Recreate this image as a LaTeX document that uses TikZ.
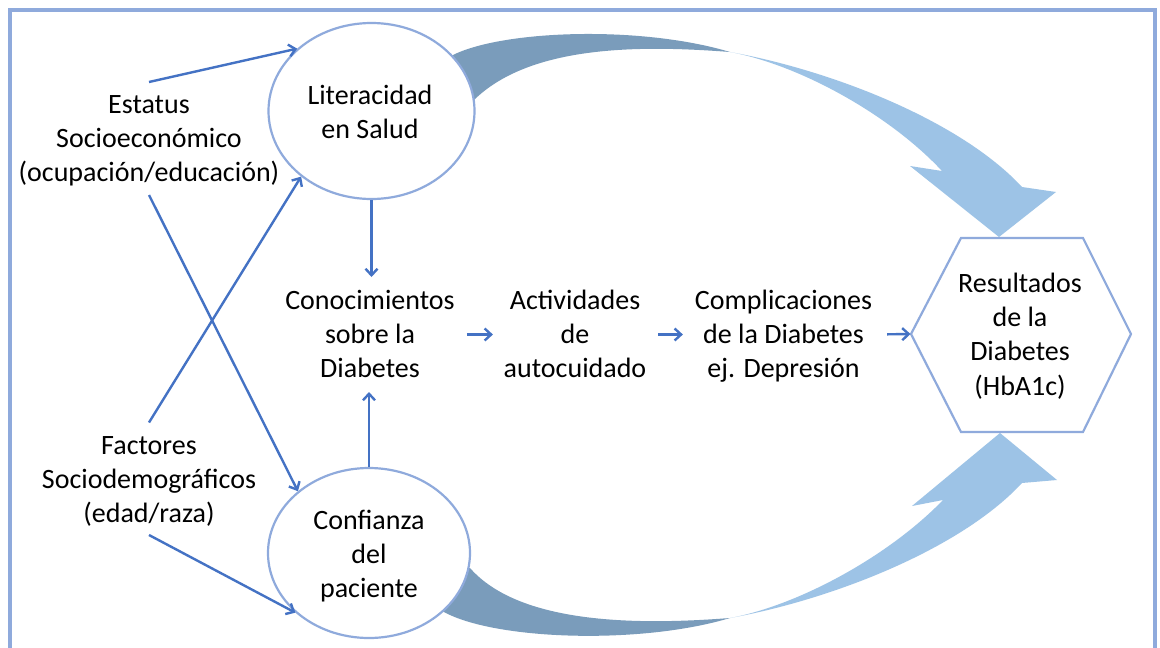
\documentclass[tikz,border=0pt]{standalone}
\usepackage{fontspec}
\setmainfont{Carlito}
\usetikzlibrary{arrows.meta,shapes.geometric}
\definecolor{lineblue}{RGB}{68,114,196}
\definecolor{edgeblue}{RGB}{143,170,220}
\definecolor{arrowlight}{RGB}{157,195,230}
\definecolor{arrowdark}{RGB}{122,156,187}
\begin{document}
\begin{tikzpicture}[x=1pt,y=-1pt,
  lbl/.style={font=\fontsize{28}{34.2}\selectfont, align=center, inner sep=0pt, text=black},
  oval/.style={ellipse, draw=edgeblue, line width=2.2pt, fill=white, inner sep=0pt},
  conn/.style={draw=lineblue, line width=2.4pt, -{Straight Barb[length=6.5pt,width=12pt]}},
  bigdark/.style={fill=arrowdark},
  biglight/.style={fill=arrowlight},
  frame/.style={draw=edgeblue, line width=4pt}
]
\useasboundingbox (0,0) rectangle (1160,648);
\fill[white] (0,0) rectangle (1160,648);
\draw[frame] (10,652) -- (10,10) -- (1155,10) -- (1155,652);

% big curved arrows
\path[bigdark] (440,64) -- (451,56) .. controls (500,30) and (640,25) .. (730,52)
  .. controls (640,45) and (530,45) .. (474,100) -- (455,100) -- cycle;
\path[biglight] (730,52) .. controls (830,70) and (960,120) .. (1022,187) -- (1056,192)
  -- (999,237) -- (910,166) -- (942,171) .. controls (890,115) and (800,65) .. (730,52) -- cycle;
\path[bigdark] (430,605) -- (444,612) .. controls (495,640) and (640,645) .. (730,618)
  .. controls (640,625) and (520,625) .. (470,568) -- (455,570) -- cycle;
\path[biglight] (730,618) .. controls (830,600) and (960,550) .. (1022,483) -- (1057,480)
  -- (1000,433) -- (912,506) -- (943,500) .. controls (890,555) and (800,605) .. (730,618) -- cycle;

% hexagon
\draw[edgeblue, line width=2.2pt, fill=white] (911,334) -- (961,238) -- (1083,238) -- (1131,334)
  -- (1083,432) -- (961,432) -- cycle;
\coordinate (hexL) at (911,334);

% ellipses
\node[oval, minimum width=206pt, minimum height=176pt] (lit) at (371.5,111) {};
\node[oval, minimum width=202pt, minimum height=170pt] (conf) at (369,553) {};

% texts
\node[lbl] (littxt) at (370,114.5) {\strut Literacidad\\en Salud\strut};
\node[lbl] (conftxt) at (369,556.5) {\strut Confianza\\del\\paciente\strut};
\node[lbl] (est) at (149,140.5) {\strut Estatus\\Socioeconómico\\(ocupación/educación)\strut};
\node[lbl] (fac) at (149,481.5) {\strut Factores\\Sociodemográficos\\(edad/raza)\strut};
\node[lbl] (con) at (370,336.5) {\strut Conocimientos\\sobre la\\Diabetes\strut};
\node[lbl] (act) at (575,336.5) {\strut Actividades\\de\\autocuidado\strut};
\node[lbl] (com) at (783.5,336.5) {\strut Complicaciones\\de la Diabetes\\ej. Depresión\strut};
\node[lbl] (res) at (1020,337) {\strut Resultados\\de la\\Diabetes\\(HbA1c)\strut};

% connectors
\draw[conn] ([yshift=7pt]est.north) -- (lit.140);
\draw[conn] ([yshift=7.5pt]fac.north) -- (lit.223);
\draw[conn] ([yshift=-3pt]est.south) -- (conf.139);
\draw[conn] ([yshift=-2pt]fac.south) -- (conf.219);
\draw[conn, shorten >=8pt] (lit.south) -- (lit.south |- con.north);
\draw[conn, shorten >=4pt] (conf.north) -- (conf.north |- con.south);
\draw[conn, shorten <=12pt, shorten >=10.6pt] ([yshift=2pt]con.east) -- ([yshift=2pt]act.west);
\draw[conn, shorten <=11.6pt, shorten >=11.8pt] ([yshift=2pt]act.east) -- ([yshift=2pt]com.west);
\draw[conn, shorten <=14.8pt, shorten >=0.5pt] ([yshift=2pt]com.east) -- (hexL);
\end{tikzpicture}
\end{document}
